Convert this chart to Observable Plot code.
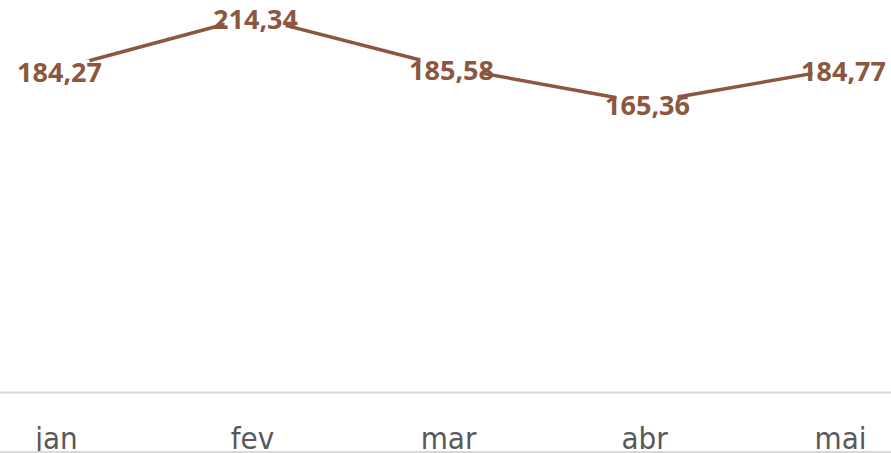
<!DOCTYPE html>
<html>
<head>
<meta charset="utf-8">
<script src="https://cdn.jsdelivr.net/npm/d3@7"></script>
<script src="https://cdn.jsdelivr.net/npm/@observablehq/plot@0.6"></script>
<style>
  html, body { margin: 0; padding: 0; background: #ffffff; }
  #wrap { width: 891px; height: 451px; overflow: hidden; border-bottom: 2px solid #d9d9d9; }
</style>
</head>
<body>
<div id="wrap"></div>
<script>
const months = ["jan", "fev", "mar", "abr", "mai"];
const values = [184.27, 214.34, 185.58, 165.36, 184.77];

const data = months.map((m, i) => ({month: m, value: values[i]}));
const fmt = v => v.toFixed(2).replace(".", ",");
const brown = "#8B5740";

const labelBox = {
  draw(context) { context.rect(-31, -10, 61, 26); }
};

const chart = Plot.plot({
  width: 891,
  height: 451,
  marginLeft: 54,
  marginRight: 50,
  marginTop: 0,
  marginBottom: 59,
  style: {background: "transparent", overflow: "visible"},
  x: {type: "point", domain: months, range: [54, 841], padding: 0, label: null},
  y: {domain: [0, 250], range: [392, -46.2], axis: null},
  marks: [
    Plot.ruleY([0], {stroke: "#d9d9d9", strokeWidth: 2, insetLeft: -54, insetRight: -50}),
    Plot.line(data, {x: "month", y: "value", stroke: brown, strokeWidth: 3.5, strokeLinejoin: "round", strokeLinecap: "round"}),
    Plot.dot(data, {x: "month", y: "value", symbol: labelBox, fill: "white", stroke: "none", dx: 3}),
    Plot.text(data, {x: "month", y: "value", text: d => fmt(d.value), dx: 3, dy: 4,
      fontSize: 27, fontWeight: "bold", fill: brown, fontFamily: "'Noto Sans', sans-serif"}),
    Plot.axisX({tickSize: 0, tickPadding: 34, fontSize: 31, fill: "#595959",
      fontFamily: "'Liberation Sans Narrow', 'DejaVu Sans Condensed', sans-serif", label: null})
  ]
});
document.getElementById("wrap").appendChild(chart);
</script>
</body>
</html>
